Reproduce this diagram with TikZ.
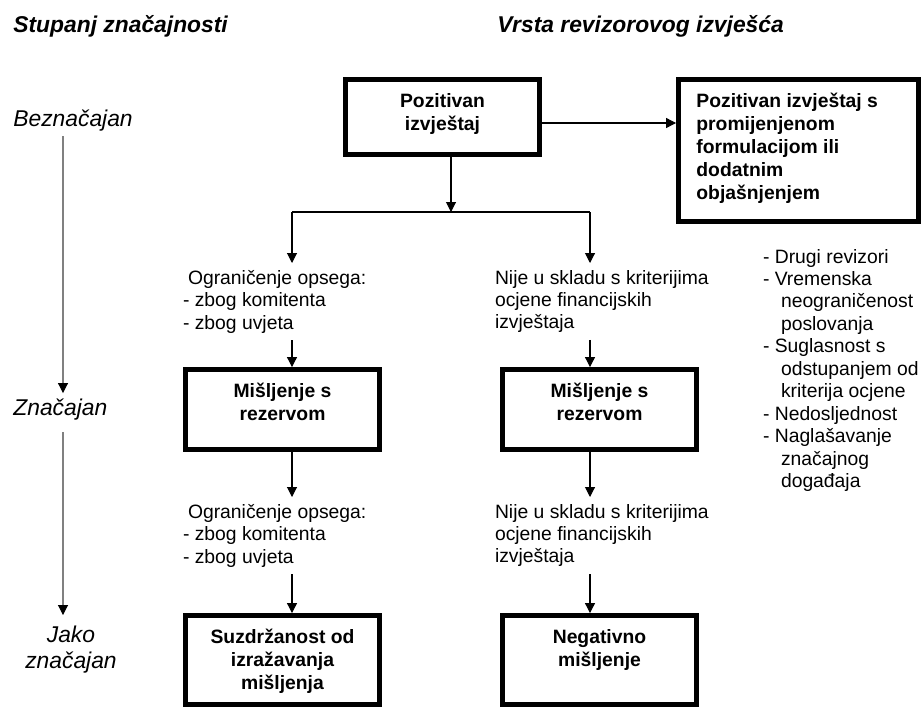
\documentclass[tikz,border=0pt]{standalone}
\usepackage{fontspec}
\setmainfont{Liberation Sans}
\usetikzlibrary{arrows.meta,positioning}
\newcommand{\lind}{\hspace*{0.36cm}}

\begin{document}
\begin{tikzpicture}[
  x=0.02cm, y=-0.02cm,
  box/.style={draw, line width=2.8pt, inner sep=0pt, minimum width=3.88cm},
  btxt/.style={align=center, inner sep=0pt, font=\fontsize{11}{13}\selectfont\bfseries},
  txt/.style={align=left, inner sep=0pt, outer sep=0.14cm, anchor=north west, font=\fontsize{11}{12.8}\selectfont},
  lvl/.style={inner sep=0.1cm, font=\fontsize{13}{14.8}\selectfont\itshape},
  head/.style={inner sep=0pt, anchor=base west, font=\fontsize{13}{15}\selectfont\bfseries\itshape},
  line/.style={line width=0.6pt},
  arr/.style={line, -{Triangle[length=0.2cm,width=0.2cm]}},
  axis/.style={line, draw=gray, -{Triangle[length=0.2cm,width=0.2cm,color=black]}},
]
\useasboundingbox (0,0) rectangle (922,707);

% headings
\node[head] (head1) at (13,32) {Stupanj značajnosti};
\node[head] (head2) at (497,32) {Vrsta revizorovog izvješća};

% degree of significance
\node[lvl, anchor=base west] (lvl1) at (8,126) {Beznačajan};
\node[lvl, anchor=base west] (lvl2) at (8,415) {Značajan};
\node[lvl, anchor=north, align=center] (lvl3) at (71,621) {Jako\\značajan};
\coordinate (ax) at (63,0);
\draw[axis] (lvl1.south -| ax) -- (lvl2.north -| ax);
\draw[axis, shorten <=0.14cm, shorten >=0.12cm] (lvl2.south -| ax) -- (lvl3.north -| ax);

% report boxes
\node[box, minimum height=1.5cm] (pos) at (442.5,117) {};
\node[btxt, below=0.32cm of pos.north] (posT) {Pozitivan\\izvještaj};
\node[box, minimum width=4.8cm, minimum height=2.84cm] (dod) at (798.5,150.5) {};
\node[btxt, align=left, below right=0.32cm and 0.4cm of dod.north west] (dodT) {Pozitivan izvještaj s\\promijenjenom\\formulacijom ili\\dodatnim\\objašnjenjem};
\node[box, minimum height=1.6cm] (rez1) at (282.5,409.5) {};
\node[btxt, below=0.32cm of rez1.north] (rez1T) {Mišljenje s\\rezervom};
\node[box, minimum height=1.6cm] (rez2) at (599.5,409.5) {};
\node[btxt, below=0.32cm of rez2.north] (rez2T) {Mišljenje s\\rezervom};
\node[box, minimum height=1.78cm] (suzd) at (282.5,660) {};
\node[btxt, below=0.32cm of suzd.north] (suzdT) {Suzdržanost od\\izražavanja\\mišljenja};
\node[box, minimum height=1.78cm] (neg) at (599.5,660) {};
\node[btxt, below=0.32cm of neg.north] (negT) {Negativno\\mišljenje};

% reasons
\node[txt] (ops1) at (176,263) {\hspace*{0.1cm}Ograničenje opsega:\\- zbog komitenta\\- zbog uvjeta};
\node[txt] (krit1) at (488,263) {Nije u skladu s kriterijima\\ocjene financijskih\\izvještaja};
\node[txt] (ops2) at (176,497) {\hspace*{0.1cm}Ograničenje opsega:\\- zbog komitenta\\- zbog uvjeta};
\node[txt] (krit2) at (488,497) {Nije u skladu s kriterijima\\ocjene financijskih\\izvještaja};
\node[txt, outer sep=0pt] (list) at (763,249) {- Drugi revizori\\- Vremenska\\\lind neograničenost\\\lind poslovanja\\- Suglasnost s\\\lind odstupanjem od\\\lind kriterija ocjene\\- Nedosljednost\\- Naglašavanje\\\lind značajnog\\\lind događaja};

% connectors
\coordinate (split) at (451,212);
\coordinate (spL) at (292,212);
\coordinate (spR) at (590,212);
\draw[arr] ([yshift=-0.12cm]pos.east) -- ([yshift=-0.12cm]pos.east -| dod.west);
\draw[arr] (pos.south -| split) -- (split);
\draw[line] (spL) -- (spR);
\draw[arr] (spL) -- (ops1.north -| spL);
\draw[arr] (spR) -- (krit1.north -| spR);
\draw[arr] (ops1.south -| spL) -- (rez1.north -| spL);
\draw[arr] (krit1.south -| spR) -- (rez2.north -| spR);
\draw[arr] (rez1.south -| spL) -- (ops2.north -| spL);
\draw[arr] (rez2.south -| spR) -- (krit2.north -| spR);
\draw[arr] (ops2.south -| spL) -- (suzd.north -| spL);
\draw[arr] (krit2.south -| spR) -- (neg.north -| spR);
\end{tikzpicture}
\end{document}
